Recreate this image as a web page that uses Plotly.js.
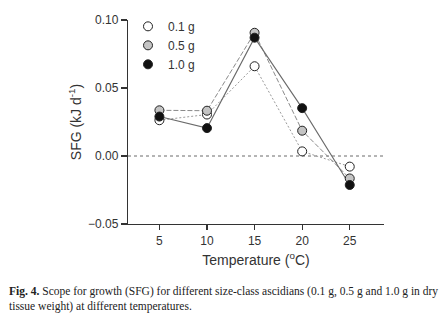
<!DOCTYPE html>
<html>
<head>
<meta charset="utf-8">
<script src="https://cdn.plot.ly/plotly-3.0.1.min.js"></script>
<style>html,body{margin:0;padding:0;background:#fff;}#chart{width:444px;height:325px;}</style>
</head>
<body>
<div id="chart"></div>
<script>
var temperatures = [5, 10, 15, 20, 25];
var sfg01 = [0.0263, 0.0305, 0.066, 0.0034, -0.0078];
var sfg05 = [0.0336, 0.0333, 0.0906, 0.0186, -0.0165];
var sfg10 = [0.029, 0.0205, 0.087, 0.0352, -0.0213];
var seriesNames = ['0.1 g', '0.5 g', '1.0 g'];
var yTicks = [-0.05, 0, 0.05, 0.10];
var yTickLabels = ['\u22120.05', '0.00', '0.05', '0.10'];
var xTicks = [5, 10, 15, 20, 25];

var series = [
  {y: sfg01, name: seriesNames[0], fill: '#ffffff', line: {color: '#9a9a9a', width: 1, dash: '2px,2px'}},
  {y: sfg05, name: seriesNames[1], fill: '#c4c4c4', line: {color: '#8a8a8a', width: 1, dash: '5px,2px'}},
  {y: sfg10, name: seriesNames[2], fill: '#111111', line: {color: '#6a6a6a', width: 1.1, dash: 'solid'}}
];

var traces = [];
series.forEach(function (s) {
  traces.push({
    x: temperatures, y: s.y, type: 'scatter', mode: 'lines',
    line: s.line, showlegend: false, hoverinfo: 'skip'
  });
});
series.forEach(function (s) {
  traces.push({
    x: temperatures, y: s.y, type: 'scatter', mode: 'markers', name: s.name,
    marker: {size: 9, color: s.fill, line: {color: '#222', width: 1}},
    showlegend: true
  });
});

var layout = {
  width: 444, height: 325,
  margin: {l: 128, r: 60, t: 17, b: 101},
  paper_bgcolor: '#fff', plot_bgcolor: '#fff',
  font: {family: 'Liberation Sans, Arial, sans-serif', color: '#333', size: 12},
  showlegend: true,
  legend: {
    x: 0.0, y: 1.04, xanchor: 'left', yanchor: 'top',
    bgcolor: 'rgba(0,0,0,0)', borderwidth: 0,
    font: {size: 12, color: '#333'},
    tracegroupgap: 0
  },
  xaxis: {
    range: [1.7, 28.6], showgrid: false, zeroline: false,
    showline: true, linecolor: '#333', linewidth: 1.2,
    ticks: 'outside', ticklen: 5, tickcolor: '#333', tickwidth: 1.2,
    tickvals: xTicks, ticktext: xTicks.map(String),
    tickfont: {size: 12, color: '#333'},
    title: {text: 'Temperature (<sup>o</sup>C)', font: {size: 14, color: '#333'}, standoff: 8}
  },
  yaxis: {
    range: [-0.05, 0.10], showgrid: false, zeroline: false,
    showline: true, linecolor: '#333', linewidth: 1.2,
    ticks: 'outside', ticklen: 6, tickcolor: '#333', tickwidth: 1.2,
    tickvals: yTicks, ticktext: yTickLabels,
    tickfont: {size: 12, color: '#333'},
    title: {text: 'SFG (kJ d<sup>-1</sup>)', font: {size: 14, color: '#333'}, standoff: 3}
  },
  shapes: [{
    type: 'line', xref: 'paper', yref: 'y', x0: 0, x1: 1, y0: 0, y1: 0,
    line: {color: '#444', width: 0.8, dash: 'dot'}, layer: 'below'
  }],
  annotations: [{
    xref: 'paper', yref: 'paper', x: -121/256, y: -60/207, xanchor: 'left', yanchor: 'top',
    align: 'left', showarrow: false,
    text: '<b>Fig. 4.</b> Scope for growth (SFG) for different size-class ascidians (0.1 g, 0.5 g and 1.0 g in dry<br>tissue weight) at different temperatures.',
    font: {family: 'Liberation Serif, serif', size: 11.5, color: '#222'}
  }]
};

Plotly.newPlot('chart', traces, layout, {displayModeBar: false, staticPlot: true});
</script>
</body>
</html>
